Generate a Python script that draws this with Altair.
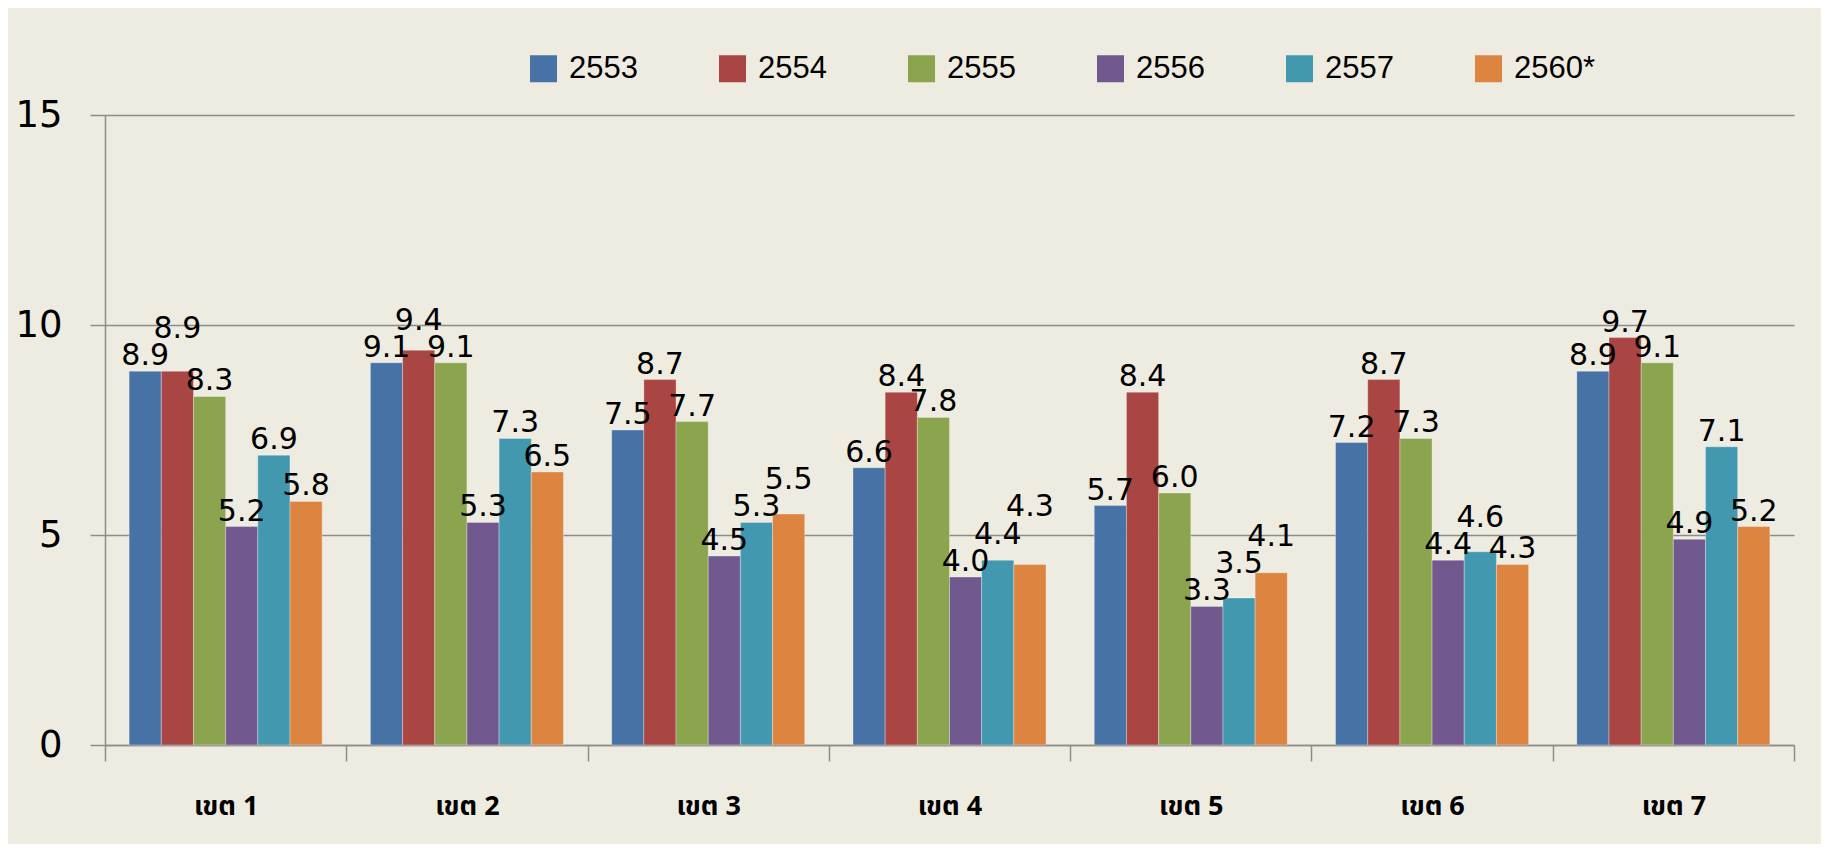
import altair as alt
import pandas as pd

regions = ["เขต 1", "เขต 2", "เขต 3", "เขต 4", "เขต 5", "เขต 6", "เขต 7"]
years = ["2553", "2554", "2555", "2556", "2557", "2560*"]
colors = ["#4672A6", "#A94543", "#8AA54E", "#71588F", "#4298AF", "#DD8440"]

v2553 = [8.9, 9.1, 7.5, 6.6, 5.7, 7.2, 8.9]
v2554 = [8.9, 9.4, 8.7, 8.4, 8.4, 8.7, 9.7]
v2555 = [8.3, 9.1, 7.7, 7.8, 6.0, 7.3, 9.1]
v2556 = [5.2, 5.3, 4.5, 4.0, 3.3, 4.4, 4.9]
v2557 = [6.9, 7.3, 5.3, 4.4, 3.5, 4.6, 7.1]
v2560 = [5.8, 6.5, 5.5, 4.3, 4.1, 4.3, 5.2]
series = [v2553, v2554, v2555, v2556, v2557, v2560]

# build the table; stagger labels that would collide with the neighbour's label
rows = []
LH = 0.6
for ri, r in enumerate(regions):
    prev = None
    for yi, y in enumerate(years):
        v = series[yi][ri]
        pos = v
        if prev is not None and pos < prev + LH and pos + LH > prev:
            pos = prev + LH + 0.05
        prev = pos
        rows.append({"region": r, "year": y, "value": v, "labelpos": pos,
                     "label": f"{v:.1f}"})
df = pd.DataFrame(rows)

x = alt.X("region:N", sort=regions, title=None,
          scale=alt.Scale(paddingInner=0, paddingOuter=0),
          axis=alt.Axis(labelFont="Noto Sans Thai, Tahoma, Leelawadee UI, DejaVu Sans, sans-serif",
                        labelFontSize=27, labelFontWeight="bold", labelColor="#000000",
                        labelAngle=0, labelPadding=32, tickBand="extent", tickSize=16,
                        tickColor="#8c8c8c", tickWidth=1.5, domainColor="#8c8c8c",
                        domainWidth=1.5, grid=False))
xo = alt.XOffset("year:N", sort=years,
                 scale=alt.Scale(paddingInner=0, paddingOuter=0.75))

bars = alt.Chart(df).mark_bar(stroke="#ffffff", strokeWidth=0.7, strokeOpacity=0.45).encode(
    x=x, xOffset=xo,
    y=alt.Y("value:Q", title=None,
            scale=alt.Scale(domain=[0, 15], nice=False),
            axis=alt.Axis(values=[0, 5, 10, 15], labelFont="DejaVu Sans", labelFontSize=37,
                          labelColor="#000000", labelPadding=28, tickSize=15,
                          tickColor="#8c8c8c", tickWidth=1.5, domainColor="#8c8c8c",
                          domainWidth=1.5, grid=True, gridColor="#8c8c8c", gridWidth=1.5)),
    color=alt.Color("year:N", sort=years, title=None,
                    scale=alt.Scale(domain=years, range=colors),
                    legend=alt.Legend(orient="none", direction="horizontal",
                                      legendX=423, legendY=-62, symbolType="square",
                                      symbolSize=729, symbolStrokeWidth=0,
                                      symbolOpacity=1,
                                      labelFont="Liberation Sans", labelFontSize=31,
                                      labelColor="#000000", labelOffset=10,
                                      columnPadding=79, padding=0)),
)

labels = alt.Chart(df).mark_text(font="DejaVu Sans", fontSize=30, color="#000000",
                                 baseline="alphabetic", dy=-6).encode(
    x=x, xOffset=xo,
    y=alt.Y("labelpos:Q"),
    text="label:N",
)

chart = alt.layer(bars, labels).properties(
    width=1689, height=630,
    autosize=alt.AutoSizeParams(type="none"),
    padding={"left": 97, "top": 107, "right": 27, "bottom": 99},
    background="#EEECE1",
).configure_view(stroke=None)

chart.save("out.html", embed_options={"renderer": "svg", "actions": False})
